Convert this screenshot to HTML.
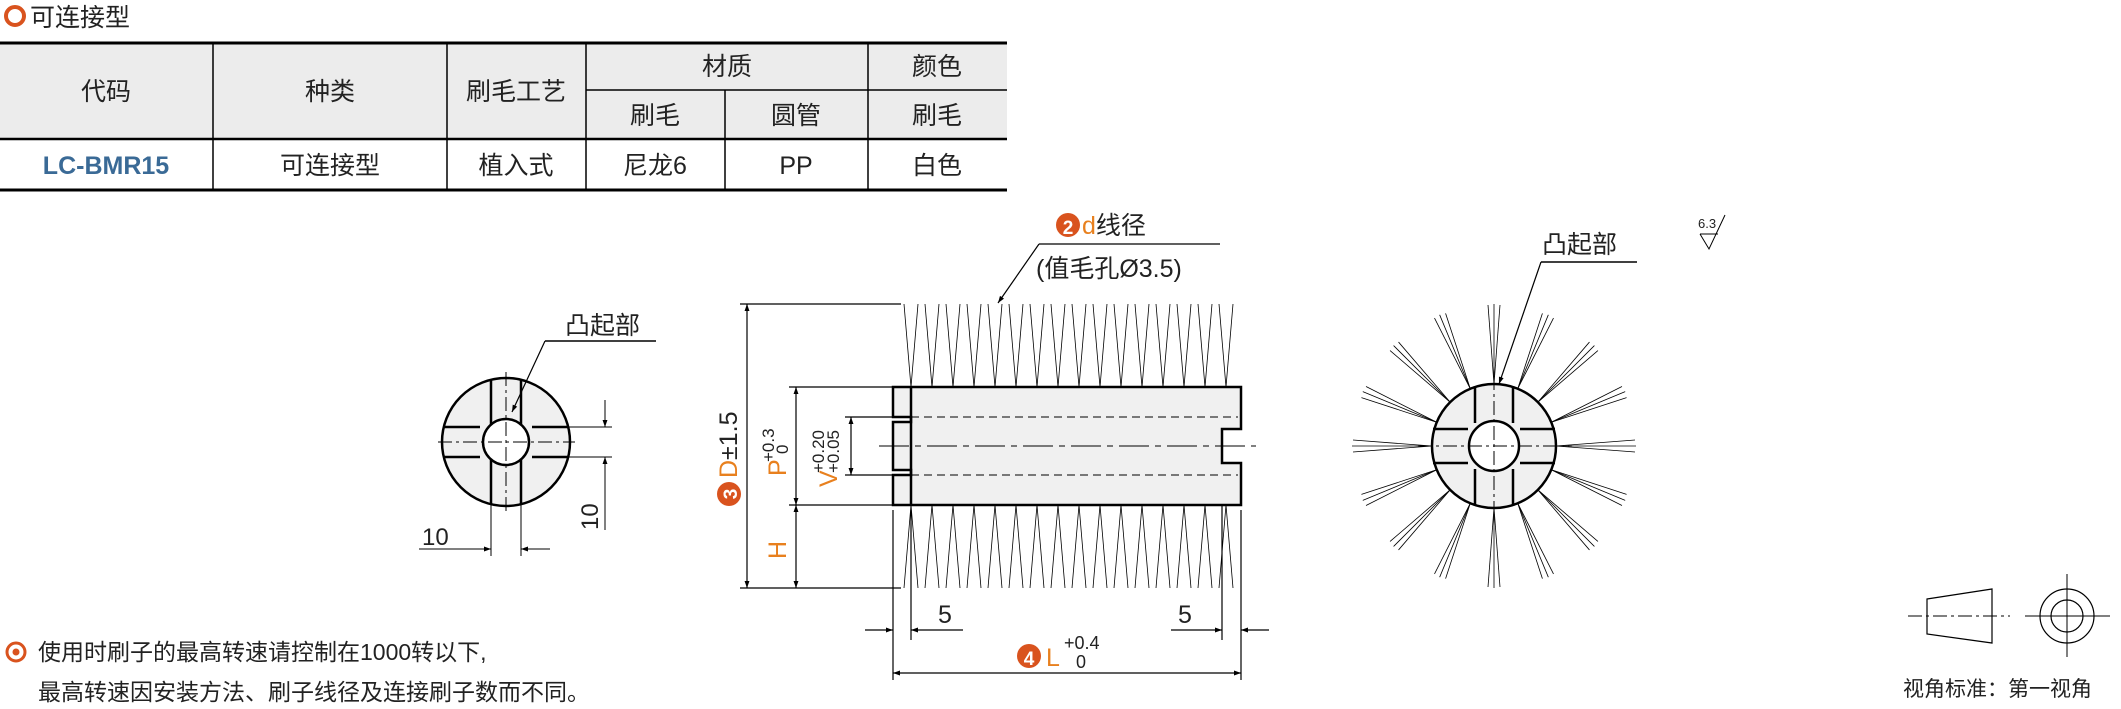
<!DOCTYPE html>
<html><head><meta charset="utf-8"><style>
body{margin:0;width:2121px;height:709px;background:#fff;overflow:hidden}
svg{display:block;font-family:"Liberation Sans","Noto Sans CJK SC",sans-serif}
</style></head><body>
<svg width="2121" height="709" viewBox="0 0 2121 709" xmlns="http://www.w3.org/2000/svg">
<defs>
<marker id="a" viewBox="0 0 10 10" refX="10" refY="5" markerWidth="14" markerHeight="7" orient="auto-start-reverse" markerUnits="userSpaceOnUse"><path d="M0,1.5 L10,5 L0,8.5z" fill="#000"/></marker>
</defs>
<!-- title -->
<circle cx="15" cy="16" r="9" fill="none" stroke="#d9531e" stroke-width="4"/>
<text x="30" y="26" font-size="25" fill="#222">可连接型</text>
<!-- table -->
<rect x="0" y="43" width="1007" height="96" fill="#ececec"/>
<g stroke="#000" fill="none">
<line x1="0" y1="43" x2="1007" y2="43" stroke-width="3"/>
<line x1="586" y1="90" x2="1007" y2="90" stroke-width="1.5"/>
<line x1="0" y1="139" x2="1007" y2="139" stroke-width="2.5"/>
<line x1="0" y1="190" x2="1007" y2="190" stroke-width="3"/>
<g stroke-width="1.5"><line x1="213" y1="43" x2="213" y2="190"/><line x1="447" y1="43" x2="447" y2="190"/><line x1="586" y1="43" x2="586" y2="190"/><line x1="725" y1="90" x2="725" y2="190"/><line x1="868" y1="43" x2="868" y2="190"/></g>
</g>
<g font-size="25" fill="#222" text-anchor="middle">
<text x="106" y="100">代码</text><text x="330" y="100">种类</text><text x="516" y="100">刷毛工艺</text>
<text x="727" y="75">材质</text><text x="937" y="75">颜色</text>
<text x="655" y="124">刷毛</text><text x="796" y="124">圆管</text><text x="937" y="124">刷毛</text>
<text x="106" y="174" fill="#3a6a96" font-weight="bold">LC-BMR15</text><text x="330" y="174">可连接型</text><text x="516" y="174">植入式</text><text x="655" y="174">尼龙6</text><text x="796" y="174">PP</text><text x="937" y="174">白色</text>
</g>

<!-- small front view -->
<g stroke="#000" fill="none">
<circle cx="506" cy="442" r="64" fill="#f0f0f0" stroke-width="2.5"/>
<path d="M491,379 V426 M521,379 V426 M491,458 V505 M521,458 V505 M444,427 H480 M444,457 H480 M532,427 H568 M532,457 H568" stroke-width="2.5"/>
<circle cx="506" cy="442" r="23" fill="#fff" stroke-width="2.5"/>
<path d="M438,442 H575 M506,372 V512" stroke-width="1" stroke-dasharray="14,4,3,4"/>
<!-- leader -->
<line x1="545" y1="341" x2="656" y2="341" stroke-width="1.5"/>
<line x1="545" y1="341" x2="512" y2="412" stroke-width="1.2" marker-end="url(#a)"/>
<!-- dims -->
<path d="M491,505 V556 M521,505 V556 M568,427 H612 M568,457 H612" stroke-width="1"/>
<line x1="419" y1="549" x2="491" y2="549" stroke-width="1" marker-end="url(#a)"/>
<line x1="550" y1="549" x2="521" y2="549" stroke-width="1" marker-end="url(#a)"/>
<line x1="605" y1="400" x2="605" y2="427" stroke-width="1" marker-end="url(#a)"/>
<line x1="605" y1="530" x2="605" y2="457" stroke-width="1" marker-end="url(#a)"/>
</g>
<text x="565" y="334" font-size="25" fill="#222">凸起部</text>
<text x="422" y="545" font-size="24" fill="#222">10</text>
<text transform="translate(598,530) rotate(-90)" font-size="24" fill="#222">10</text>

<!-- side view bristles -->
<g stroke="#000" stroke-width="0.8" fill="none" id="br">
<path d="M904,304L911,387M918,304L911,387 M925,304L932,387M939,304L932,387 M946,304L953,387M960,304L953,387 M967,304L974,387M981,304L974,387 M988,304L995,387M1002,304L995,387 M1009,304L1016,387M1023,304L1016,387 M1030,304L1037,387M1044,304L1037,387 M1051,304L1058,387M1065,304L1058,387 M1072,304L1079,387M1086,304L1079,387 M1093,304L1100,387M1107,304L1100,387 M1114,304L1121,387M1128,304L1121,387 M1135,304L1142,387M1149,304L1142,387 M1156,304L1163,387M1170,304L1163,387 M1177,304L1184,387M1191,304L1184,387 M1198,304L1205,387M1212,304L1205,387 M1219,304L1226,387M1233,304L1226,387"/>
<path d="M904,588L911,505M918,588L911,505 M925,588L932,505M939,588L932,505 M946,588L953,505M960,588L953,505 M967,588L974,505M981,588L974,505 M988,588L995,505M1002,588L995,505 M1009,588L1016,505M1023,588L1016,505 M1030,588L1037,505M1044,588L1037,505 M1051,588L1058,505M1065,588L1058,505 M1072,588L1079,505M1086,588L1079,505 M1093,588L1100,505M1107,588L1100,505 M1114,588L1121,505M1128,588L1121,505 M1135,588L1142,505M1149,588L1142,505 M1156,588L1163,505M1170,588L1163,505 M1177,588L1184,505M1191,588L1184,505 M1198,588L1205,505M1212,588L1205,505 M1219,588L1226,505M1233,588L1226,505"/>
</g>
<!-- tube -->
<g stroke="#000" fill="none">
<path d="M893,387 H1241 V429 H1222 V463 H1241 V505 H893 V475 H911 V470 H893 V422 H911 V417 H893 Z" fill="#f0f0f0" stroke-width="2.5"/>
<line x1="911" y1="387" x2="911" y2="505" stroke-width="2.5"/>
<path d="M911,417 H1238 M911,475 H1238" stroke-width="1" stroke-dasharray="8,5"/>
<path d="M879,446 H1256" stroke-width="1" stroke-dasharray="30,6,6,6"/>
<!-- D dim -->
<path d="M740,304 H901 M740,588 H901 M789,387 H892 M789,505 H892 M845,417 H892 M845,475 H892" stroke-width="1.2"/>
<line x1="747" y1="446" x2="747" y2="304" stroke-width="1.2" marker-end="url(#a)"/>
<line x1="747" y1="446" x2="747" y2="588" stroke-width="1.2" marker-end="url(#a)"/>
<line x1="796" y1="446" x2="796" y2="387" stroke-width="1.2" marker-end="url(#a)"/>
<line x1="796" y1="446" x2="796" y2="505" stroke-width="1.2" marker-end="url(#a)"/>
<line x1="796" y1="546" x2="796" y2="505" stroke-width="1.2" marker-end="url(#a)"/>
<line x1="796" y1="546" x2="796" y2="588" stroke-width="1.2" marker-end="url(#a)"/>
<line x1="851" y1="446" x2="851" y2="417" stroke-width="1.2" marker-end="url(#a)"/>
<line x1="851" y1="446" x2="851" y2="475" stroke-width="1.2" marker-end="url(#a)"/>
<!-- bottom dims -->
<path d="M893,510 V680 M911,510 V640 M1222,505 V640 M1241,510 V680" stroke-width="1.2"/>
<line x1="865" y1="630" x2="893" y2="630" stroke-width="1.2" marker-end="url(#a)"/>
<line x1="963" y1="630" x2="911" y2="630" stroke-width="1.2" marker-end="url(#a)"/>
<line x1="1171" y1="630" x2="1222" y2="630" stroke-width="1.2" marker-end="url(#a)"/>
<line x1="1269" y1="630" x2="1241" y2="630" stroke-width="1.2" marker-end="url(#a)"/>
<line x1="1067" y1="673" x2="893" y2="673" stroke-width="1.2" marker-end="url(#a)"/>
<line x1="1067" y1="673" x2="1241" y2="673" stroke-width="1.2" marker-end="url(#a)"/>
<!-- d leader -->
<line x1="1039" y1="244" x2="1220" y2="244" stroke-width="1.2"/>
<line x1="1039" y1="244" x2="998" y2="303" stroke-width="1.2" marker-end="url(#a)"/>
</g>
<g font-size="25" fill="#222">
<circle cx="1068" cy="225" r="12" fill="#d9531e"/><text x="1068" y="234" text-anchor="middle" fill="#fff" font-size="19" font-weight="bold">2</text>
<text x="1082" y="234"><tspan fill="#e8801e">d</tspan>线径</text>
<text x="1036" y="277">(值毛孔Ø3.5)</text>
<text x="938" y="623">5</text><text x="1178" y="623">5</text>
<circle cx="1029" cy="656" r="12" fill="#d9531e"/><text x="1029" y="665" text-anchor="middle" fill="#fff" font-size="19" font-weight="bold">4</text>
<text x="1046" y="666" fill="#e8801e">L</text>
<text x="1064" y="649" font-size="18">+0.4</text><text x="1076" y="668" font-size="18">0</text>
<g transform="translate(737,446) rotate(-90)">
<circle cx="-48" cy="-8" r="12" fill="#d9531e"/><text x="-48" y="0" text-anchor="middle" fill="#fff" font-size="19" font-weight="bold">3</text>
<text x="-32" y="0"><tspan fill="#e8801e">D</tspan>±1.5</text>
</g>
<g transform="translate(786,476) rotate(-90)">
<text x="0" y="0" fill="#e8801e">P</text><text x="14" y="-12" font-size="17">+0.3</text><text x="22" y="2" font-size="17">0</text>
</g>
<text transform="translate(786,559) rotate(-90)" fill="#e8801e">H</text>
<g transform="translate(837,487) rotate(-90)">
<text x="0" y="0" fill="#e8801e">V</text><text x="14" y="-13" font-size="17">+0.20</text><text x="14" y="2" font-size="17">+0.05</text>
</g>
</g>

<!-- end view -->
<g stroke="#000" fill="none" stroke-width="0.8">
<g id="grp">
<line x1="1494" y1="384" x2="1494" y2="304"/><line x1="1494" y1="384" x2="1488" y2="305"/><line x1="1494" y1="384" x2="1500" y2="305"/>
</g>
<use href="#grp" transform="rotate(22.5 1494 446)"/><use href="#grp" transform="rotate(45 1494 446)"/><use href="#grp" transform="rotate(67.5 1494 446)"/>
<use href="#grp" transform="rotate(90 1494 446)"/><use href="#grp" transform="rotate(112.5 1494 446)"/><use href="#grp" transform="rotate(135 1494 446)"/>
<use href="#grp" transform="rotate(157.5 1494 446)"/><use href="#grp" transform="rotate(180 1494 446)"/><use href="#grp" transform="rotate(202.5 1494 446)"/>
<use href="#grp" transform="rotate(225 1494 446)"/><use href="#grp" transform="rotate(247.5 1494 446)"/><use href="#grp" transform="rotate(270 1494 446)"/>
<use href="#grp" transform="rotate(292.5 1494 446)"/><use href="#grp" transform="rotate(315 1494 446)"/><use href="#grp" transform="rotate(337.5 1494 446)"/>
</g>
<g stroke="#000" fill="none">
<circle cx="1494" cy="446" r="62" fill="#f0f0f0" stroke-width="2.5"/>
<path d="M1475,386 V423 M1513,386 V423 M1475,469 V506 M1513,469 V506 M1433,429 H1468 M1433,463 H1468 M1520,429 H1555 M1520,463 H1555" stroke-width="2.5"/>
<circle cx="1494" cy="446" r="25" fill="#fff" stroke-width="2.5"/>
<path d="M1418,446 H1572 M1494,376 V516" stroke-width="1" stroke-dasharray="14,4,3,4"/>
<line x1="1541" y1="262" x2="1637" y2="262" stroke-width="1.5"/>
<line x1="1541" y1="262" x2="1499" y2="384" stroke-width="1.2" marker-end="url(#a)"/>
<!-- roughness -->
<path d="M1700,234 L1709,249 L1725,215 M1700,234 H1718" stroke-width="1"/>
<!-- projection -->
<path d="M1927,599 L1992,589 V643 L1927,634 Z" stroke-width="1.2"/>
<path d="M1908,616 H2010" stroke-width="1" stroke-dasharray="14,4,3,4"/>
<circle cx="2067" cy="616" r="27" stroke-width="1.2"/><circle cx="2067" cy="616" r="16" stroke-width="1.2"/>
<path d="M2025,616 H2110 M2067,574 V657" stroke-width="1"/>
</g>
<text x="1542" y="253" font-size="25" fill="#222">凸起部</text>
<text x="1698" y="228" font-size="13" fill="#222">6.3</text>
<text x="1903" y="696" font-size="21" fill="#222">视角标准：第一视角</text>

<!-- notes -->
<circle cx="16" cy="652" r="9" fill="none" stroke="#d9531e" stroke-width="3"/>
<circle cx="16" cy="652" r="3.5" fill="#d9531e"/>
<text x="38" y="660" font-size="23" fill="#222">使用时刷子的最高转速请控制在1000转以下,</text>
<text x="38" y="700" font-size="23" fill="#222">最高转速因安装方法、刷子线径及连接刷子数而不同。</text>
</svg>
</body></html>
